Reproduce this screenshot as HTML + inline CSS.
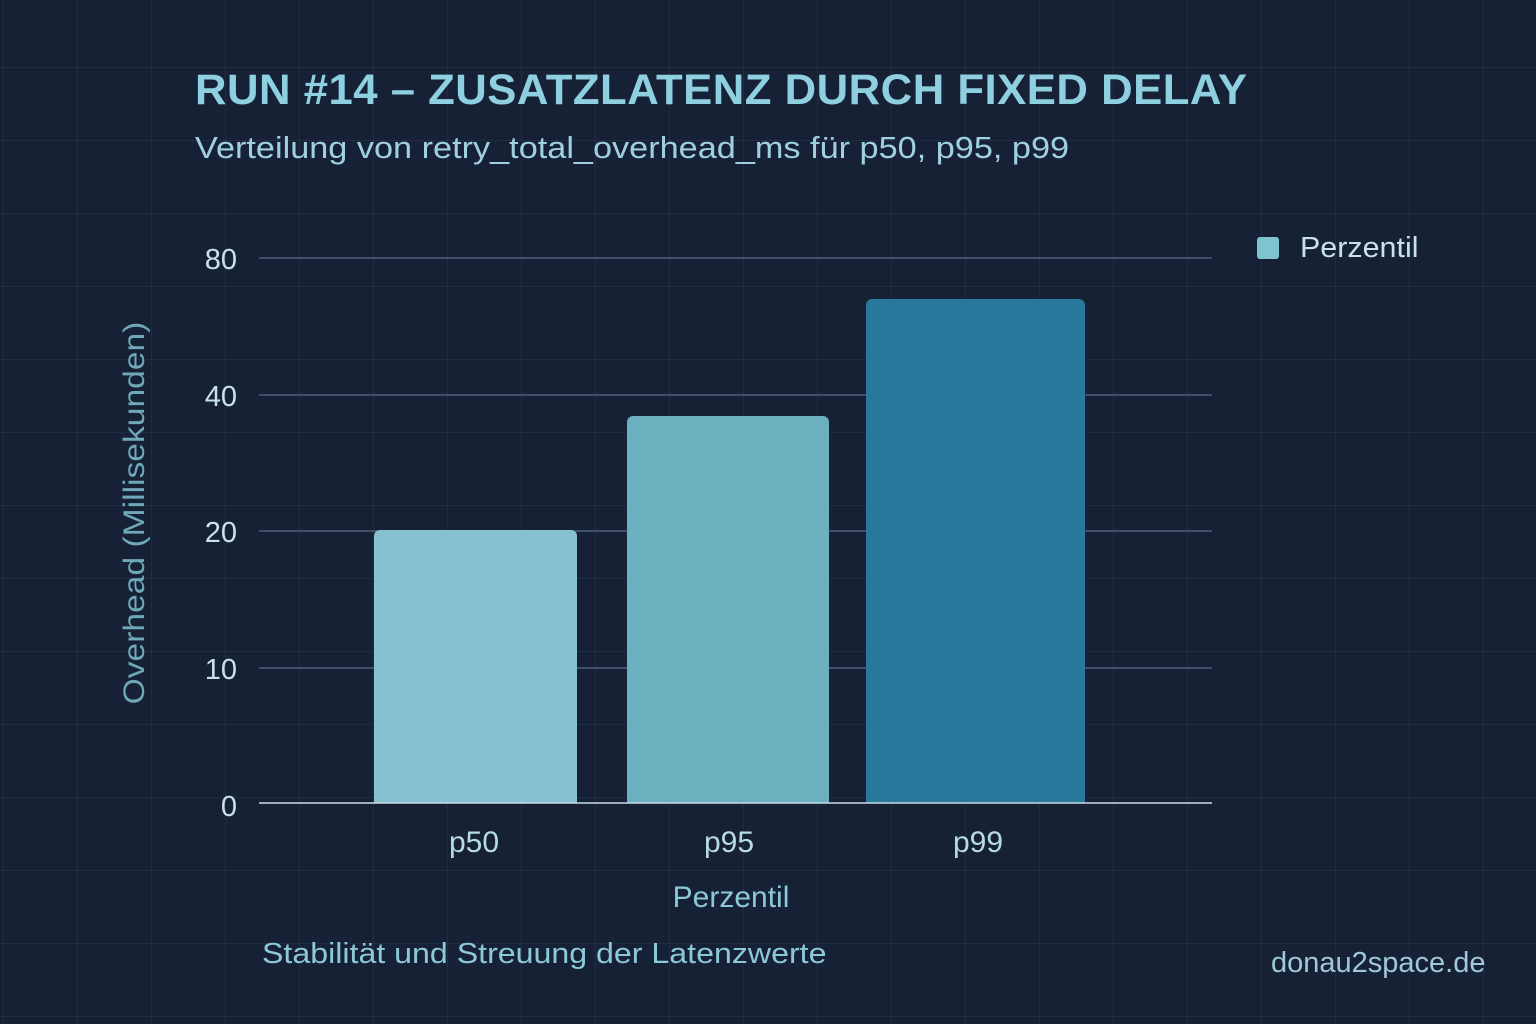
<!DOCTYPE html>
<html><head><meta charset="utf-8"><style>
html,body{margin:0;padding:0}
body{width:1536px;height:1024px;overflow:hidden;background:#172136;position:relative;font-family:"Liberation Sans","DejaVu Sans",sans-serif;
background-image:linear-gradient(rgba(120,150,190,0.09) 1px,transparent 1px),linear-gradient(90deg,rgba(120,150,190,0.09) 1px,transparent 1px);
background-size:74px 73px;background-position:3px -6px;}
.t{position:absolute;white-space:nowrap;transform-origin:0 0}
</style></head><body>
<div class="t" style="left:195px;top:66px;font-size:43px;font-weight:bold;color:#8fd0e0;letter-spacing:0.5px;transform:scaleX(1.015)">RUN #14 – ZUSATZLATENZ DURCH FIXED DELAY</div>
<div class="t" style="left:195px;top:130px;font-size:31px;color:#9fd0de;transform:scaleX(1.105)">Verteilung von retry_total_overhead_ms für p50, p95, p99</div>
<svg width="1536" height="1024" style="position:absolute;left:0;top:0">
<g stroke="#5a6a82" stroke-width="1.3">
<line x1="259" y1="258" x2="1212" y2="258"/>
<line x1="259" y1="395" x2="1212" y2="395"/>
<line x1="259" y1="531" x2="1212" y2="531"/>
<line x1="259" y1="668" x2="1212" y2="668"/>
</g>
<path d="M374,803 V536 a6,6 0 0 1 6,-6 H571 a6,6 0 0 1 6,6 V803Z" fill="#86c1cf"/>
<path d="M627,803 V422 a6,6 0 0 1 6,-6 H823 a6,6 0 0 1 6,6 V803Z" fill="#6bb0bf"/>
<path d="M866,803 V305 a6,6 0 0 1 6,-6 H1079 a6,6 0 0 1 6,6 V803Z" fill="#27789b"/>
<line x1="259" y1="803" x2="1212" y2="803" stroke="#c8dde6" stroke-width="1.6"/>
<rect x="1257" y="237" width="22" height="22" rx="3" fill="#7fc3d0"/>
<g font-family="Liberation Sans, sans-serif" font-size="29" fill="#c9e2ea" text-anchor="end">
<text x="237" y="269">80</text><text x="237" y="406">40</text><text x="237" y="542">20</text><text x="237" y="679">10</text><text x="237" y="816">0</text>
</g>
<g font-family="Liberation Sans, sans-serif" font-size="30" fill="#b6dbe6" text-anchor="middle">
<text x="474" y="852">p50</text><text x="729" y="852">p95</text><text x="978" y="852">p99</text>
</g>
<text x="731" y="907" font-family="Liberation Sans, sans-serif" font-size="30" fill="#8cc9d8" text-anchor="middle">Perzentil</text>
<text transform="translate(144,513) rotate(-90) scale(1.12,1)" font-family="Liberation Sans, sans-serif" font-size="30" fill="#6fa8b8" text-anchor="middle">Overhead (Millisekunden)</text>
</svg>
<div class="t" style="left:1300px;top:232px;font-size:29px;color:#c9e2ea;transform:scaleX(1.05)">Perzentil</div>
<div class="t" style="left:262px;top:938px;font-size:29px;color:#8cc9d8;transform:scaleX(1.108)">Stabilität und Streuung der Latenzwerte</div>
<div class="t" style="left:1271px;top:947px;font-size:29px;color:#9fc9d6">donau2space.de</div>
</body></html>
